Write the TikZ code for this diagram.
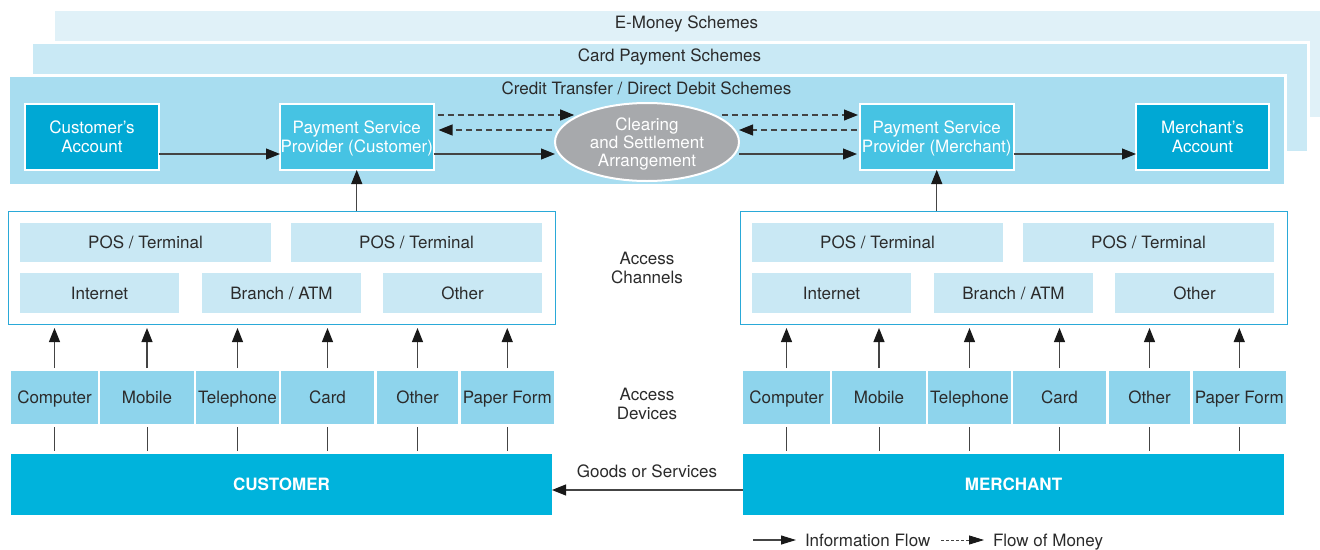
\documentclass[tikz,border=0pt]{standalone}
\usepackage{fontspec}
\setmainfont{TeX Gyre Heros}
\usetikzlibrary{arrows.meta,shapes.geometric}
\definecolor{cem}{HTML}{E0F1F8}
\definecolor{ccard}{HTML}{C9E9F5}
\definecolor{ccredit}{HTML}{A8DDF0}
\definecolor{cacct}{HTML}{00A8D4}
\definecolor{cpsp}{HTML}{46C3E3}
\definecolor{cclear}{HTML}{A7A9AC}
\definecolor{cchan}{HTML}{C9E8F4}
\definecolor{cchanline}{HTML}{2AA9D8}
\definecolor{cdev}{HTML}{8ED4EC}
\definecolor{cparty}{HTML}{00B3DC}
\definecolor{ctext}{HTML}{2B2B2B}
\definecolor{carrow}{HTML}{444444}
% box by corners: name, style, x1, y1, x2, y2, text
\newcommand\cornerbox[7]{%
  \node[#2, minimum width={#5-#3}, minimum height={#6-#4}] (#1) at ({(#3+#5)/2},{(#4+#6)/2}) {#7};}
\begin{document}
\begin{tikzpicture}[x=1pt,y=-1pt,
  font=\fontsize{17}{19}\selectfont, text=ctext,
  every node/.style={inner sep=0pt, outer sep=0pt},
  oneline/.style={text height=12.2pt, text depth=0pt},
  twoline/.style={align=center, text height=31.2pt, text depth=0pt},
  threeline/.style={align=center, text height=48.2pt, text depth=0pt},
  schemebox/.style={fill=#1, draw=white, line width=3pt},
  accbox/.style={twoline, fill=cacct, draw=white, line width=2pt, text=white},
  pspbox/.style={twoline, fill=cpsp, draw=white, line width=2pt, text=white},
  clearbox/.style={ellipse, threeline, fill=cclear, draw=white, line width=2pt, text=white,
    minimum width=184pt, minimum height=78pt, font=\fontsize{17}{18}\selectfont},
  chanouter/.style={draw=cchanline, line width=1pt, fill=white},
  chanin/.style={oneline, fill=cchan},
  devbox/.style={oneline, fill=cdev},
  partybox/.style={oneline, fill=cparty, text=white, font=\fontsize{17}{19}\selectfont\bfseries},
  infoarrow/.style={draw=carrow, line width=1.1pt, -{Triangle[length=14pt,width=11pt,color=black!90]}},
  moneyarrow/.style={infoarrow, dash pattern=on 6pt off 4pt},
  legarrow/.style={draw=carrow, line width=1.1pt, -{Triangle[length=15pt,width=9pt,color=black!90]}},
  legmoney/.style={legarrow, line width=0.8pt, dash pattern=on 3pt off 2pt},
  plainline/.style={draw=carrow, line width=1pt}
]
\useasboundingbox (0,0) rectangle (1320,549);
\fill[white] (0,0) rectangle (1320,549);

% scheme layers
\cornerbox{emoney}{schemebox=cem}{53}{9}{1330}{118}{}
\cornerbox{cardl}{schemebox=ccard}{31}{42}{1308}{152}{}
\cornerbox{credit}{schemebox=ccredit}{8}{75}{1285}{185}{}
\node[oneline] (emoneyt) at (686.5,22) {E-Money Schemes};
\node[oneline] (cardt) at (669.5,55) {Card Payment Schemes};
\node[oneline] (creditt) at (646.5,88) {Credit Transfer / Direct Debit Schemes};

% top row
\cornerbox{cacc}{accbox}{25}{104}{159}{170}{Customer’s\\Account}
\cornerbox{pspc}{pspbox}{280}{104}{433.5}{170}{Payment Service\\Provider (Customer)}
\node[clearbox] (cl) at (647,142) {Clearing\\and Settlement\\Arrangement};
\cornerbox{pspm}{pspbox}{860}{104}{1013.5}{170}{Payment Service\\Provider (Merchant)}
\cornerbox{macc}{accbox}{1136}{104}{1269}{170}{Merchant’s\\Account}

% sides
\foreach \s/\sx/\pname in {c/0/CUSTOMER, m/732/MERCHANT}{
  \begin{scope}[xshift=\sx pt]
    \cornerbox{\s-chan}{chanouter}{8}{211}{555}{324}{}
    \cornerbox{\s-pos1}{chanin}{20}{223}{271}{262}{POS / Terminal}
    \cornerbox{\s-pos2}{chanin}{291}{223}{542}{262}{POS / Terminal}
    \cornerbox{\s-inet}{chanin}{20}{273}{179}{313}{Internet}
    \cornerbox{\s-branch}{chanin}{202}{273}{361}{313}{Branch / ATM}
    \cornerbox{\s-other}{chanin}{383}{273}{542}{313}{Other}
    \foreach \n/\a/\b/\t in {comp/11/98/Computer, mob/100/194/Mobile, tel/196/279/Telephone,
        card/281/374/Card, oth/377/458/Other, paper/460.5/554/Paper Form}{
      \cornerbox{\s-\n}{devbox}{\a}{371}{\b}{424}{\t}
    }
    \cornerbox{\s-party}{partybox}{11}{454}{552}{515}{\pname}
  \end{scope}
}

% middle labels
\node[twoline] (chanl) at (647,267.5) {Access\\Channels};
\node[twoline] (devl) at (647,403.5) {Access\\Devices};
\node[oneline] (goods) at (647,471.7) {Goods or Services};

% device connectors
\foreach \s in {c,m}{
  \foreach \n in {comp,mob,tel,card,oth,paper}{
    \draw[infoarrow, shorten <=3pt, shorten >=4pt] (\s-\n.north) -- (\s-\n.north |- \s-chan.south);
    \draw[plainline, shorten <=3pt, shorten >=3pt] (\s-\n.south) -- (\s-\n.south |- \s-party.north);
  }
}
\draw[infoarrow] (pspc.south |- c-chan.north) -- (pspc.south);
\draw[infoarrow] (pspm.south |- m-chan.north) -- (pspm.south);

% top flows
\draw[infoarrow] ([yshift=-17pt]cacc.east) -- ([yshift=-17pt]pspc.west);
\draw[infoarrow] ([yshift=-17pt]pspc.east) -- ([yshift=-17pt]pspc.east -| cl.west);
\draw[moneyarrow, shorten <=4pt, shorten >=3pt] ([yshift=22pt]pspc.east) -- ([yshift=22pt]pspc.east -| cl.160);
\draw[moneyarrow, shorten <=3pt, shorten >=5pt] ([yshift=7pt]pspc.east -| cl.west) -- ([yshift=7pt]pspc.east);
\draw[moneyarrow, shorten <=5pt, shorten >=2pt] ([yshift=22pt]pspm.west -| cl.20) -- ([yshift=22pt]pspm.west);
\draw[moneyarrow, shorten <=3pt] ([yshift=7pt]pspm.west) -- ([yshift=7pt]pspm.west -| cl.east);
\draw[infoarrow, shorten >=3pt] ([yshift=-17pt]pspm.west -| cl.east) -- ([yshift=-17pt]pspm.west);
\draw[infoarrow] ([yshift=-17pt]pspm.east) -- ([yshift=-17pt]macc.west);

% goods
\draw[infoarrow] ([yshift=-5.5pt]m-party.west) -- ([yshift=-5.5pt]m-party.west -| c-party.east);

% legend
\coordinate (leg1s) at (753,540);
\node[oneline, anchor=west] (leg1) at (805,540) {Information Flow};
\draw[legarrow] (leg1s) -- ([xshift=-9pt]leg1.west);
\coordinate (leg2s) at (941,540);
\node[oneline, anchor=west] (leg2) at (993,540) {Flow of Money};
\draw[legmoney] (leg2s) -- ([xshift=-9pt]leg2.west);
\end{tikzpicture}
\end{document}
